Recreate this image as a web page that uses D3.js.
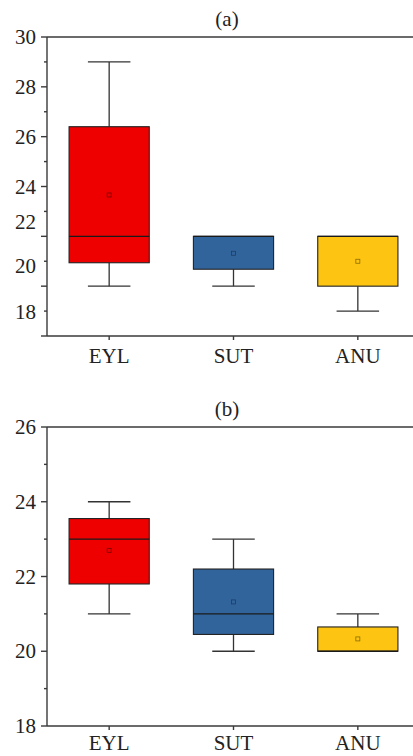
<!DOCTYPE html>
<html lang="en">
<head>
    <meta charset="UTF-8">
    <title>Box plots (a) and (b)</title>
    <style>
        body {
            margin: 0;
            padding: 0;
            background-color: white;
        }
        svg { display: block; }
        .frame { stroke: #3a3a3a; stroke-width: 1.4px; fill: none; }
        .whisker { stroke: #333; stroke-width: 1.3px; }
        .box { stroke: #222; stroke-width: 1.1px; }
        .median { stroke: #1a1a1a; stroke-width: 1.3px; }
        svg text {
            fill: #222;
            font-family: "Liberation Serif", "Times New Roman", "DejaVu Serif", serif;
            font-size: 21px;
        }
    </style>
</head>
<body>
    <div id="container"></div>

    <script src="https://d3js.org/d3.v7.min.js"></script>
    <script>
        // Categories and colours
        const categories = ["EYL", "SUT", "ANU"];
        const fills = ["#ee0000", "#32649c", "#fdc512"];
        const markStroke = ["#7a0000", "#1c3d66", "#8a6a00"];

        // Panel (a): whisker low, Q1, median, Q3, whisker high, mean
        const aLow = [20, 20, 19];
        const aQ1 = [20.94, 20.68, 20];
        const aMedian = [22, 22, 22];
        const aQ3 = [26.4, 22, 22];
        const aHigh = [29, 22, 22];
        const aMean = [23.66, 21.32, 21.0];
        // tick labels of (a) and where they sit in the original figure
        const aTickLabels = ["30", "28", "26", "24", "22", "20", "18"];
        const aTickLabelPos = [30, 28, 26, 24, 22.6, 20.8, 18.95];

        // Panel (b)
        const bLow = [21, 20, 20];
        const bQ1 = [21.8, 20.45, 20];
        const bMedian = [23, 21, 20];
        const bQ3 = [23.55, 22.2, 20.65];
        const bHigh = [24, 23, 21];
        const bMean = [22.7, 21.32, 20.33];
        const bTickLabels = ["26", "24", "22", "20", "18"];
        const bTickLabelPos = [26, 24, 22, 20, 18];

        const width = 413, height = 756;
        const left = 47, right = 420;

        const svg = d3.select("#container")
            .append("svg")
            .attr("width", width)
            .attr("height", height);

        const x = d3.scalePoint()
            .domain(categories)
            .range([left, right])
            .padding(0.5);
        const boxW = x.step() * 0.645;
        const capW = boxW * 0.53;

        function panel(opts) {
            const y = d3.scaleLinear().domain(opts.domain).range([opts.bottom, opts.top]);
            const g = svg.append("g");

            // title
            g.append("text")
                .attr("x", 227)
                .attr("y", opts.top - 11)
                .attr("text-anchor", "middle")
                .text(opts.title);

            // frame: left axis, top and bottom lines (right side runs off the page)
            g.append("line").attr("class", "frame")
                .attr("x1", left).attr("x2", width)
                .attr("y1", opts.top).attr("y2", opts.top);
            g.append("line").attr("class", "frame")
                .attr("x1", left).attr("x2", width)
                .attr("y1", opts.bottom).attr("y2", opts.bottom);
            g.append("line").attr("class", "frame")
                .attr("x1", left).attr("x2", left)
                .attr("y1", opts.top).attr("y2", opts.bottom);

            // y ticks: every unit, longer at even values
            const ticks = d3.range(opts.domain[0], opts.domain[1] + 1);
            g.selectAll(".ytick")
                .data(ticks)
                .enter()
                .append("line")
                .attr("class", "frame")
                .attr("x1", d => left - (d % 2 === 0 ? 6 : 3))
                .attr("x2", left)
                .attr("y1", d => y(d))
                .attr("y2", d => y(d));

            g.selectAll(".ylab")
                .data(opts.labels)
                .enter()
                .append("text")
                .attr("x", left - 11)
                .attr("y", (d, i) => y(opts.labelPos[i]))
                .attr("dy", "0.34em")
                .attr("text-anchor", "end")
                .text(d => d);

            // x ticks and labels
            g.selectAll(".xtick")
                .data(categories)
                .enter()
                .append("line")
                .attr("class", "frame")
                .attr("x1", d => x(d)).attr("x2", d => x(d))
                .attr("y1", opts.bottom).attr("y2", opts.bottom + 4);

            g.selectAll(".xlab")
                .data(categories)
                .enter()
                .append("text")
                .attr("x", d => x(d))
                .attr("y", opts.bottom + opts.labelGap)
                .attr("text-anchor", "middle")
                .text(d => d);

            // boxes
            const rows = categories.map((c, i) => ({
                cat: c, i: i,
                low: opts.low[i], q1: opts.q1[i], med: opts.median[i],
                q3: opts.q3[i], high: opts.high[i], mean: opts.mean[i]
            }));

            const b = g.selectAll(".bp")
                .data(rows)
                .enter()
                .append("g");

            // whiskers
            b.append("line").attr("class", "whisker")
                .attr("x1", d => x(d.cat)).attr("x2", d => x(d.cat))
                .attr("y1", d => y(d.high)).attr("y2", d => y(d.q3));
            b.append("line").attr("class", "whisker")
                .attr("x1", d => x(d.cat)).attr("x2", d => x(d.cat))
                .attr("y1", d => y(d.q1)).attr("y2", d => y(d.low));
            b.filter(d => d.high > d.q3)
                .append("line").attr("class", "whisker")
                .attr("x1", d => x(d.cat) - capW / 2).attr("x2", d => x(d.cat) + capW / 2)
                .attr("y1", d => y(d.high)).attr("y2", d => y(d.high));
            b.filter(d => d.low < d.q1)
                .append("line").attr("class", "whisker")
                .attr("x1", d => x(d.cat) - capW / 2).attr("x2", d => x(d.cat) + capW / 2)
                .attr("y1", d => y(d.low)).attr("y2", d => y(d.low));

            b.append("rect").attr("class", "box")
                .attr("x", d => x(d.cat) - boxW / 2)
                .attr("width", boxW)
                .attr("y", d => y(d.q3))
                .attr("height", d => y(d.q1) - y(d.q3))
                .attr("fill", d => fills[d.i]);

            b.append("line").attr("class", "median")
                .attr("x1", d => x(d.cat) - boxW / 2).attr("x2", d => x(d.cat) + boxW / 2)
                .attr("y1", d => y(d.med)).attr("y2", d => y(d.med));

            // mean marker
            b.append("rect")
                .attr("x", d => x(d.cat) - 2)
                .attr("y", d => y(d.mean) - 2)
                .attr("width", 4)
                .attr("height", 4)
                .attr("fill", d => fills[d.i])
                .attr("stroke", d => markStroke[d.i])
                .attr("stroke-width", 0.8);
        }

        panel({
            title: "(a)", top: 37, bottom: 336, domain: [18, 30], labelGap: 27,
            low: aLow, q1: aQ1, median: aMedian, q3: aQ3, high: aHigh, mean: aMean,
            labels: aTickLabels, labelPos: aTickLabelPos
        });

        panel({
            title: "(b)", top: 427, bottom: 726, domain: [18, 26], labelGap: 24,
            low: bLow, q1: bQ1, median: bMedian, q3: bQ3, high: bHigh, mean: bMean,
            labels: bTickLabels, labelPos: bTickLabelPos
        });
    </script>
</body>
</html>
